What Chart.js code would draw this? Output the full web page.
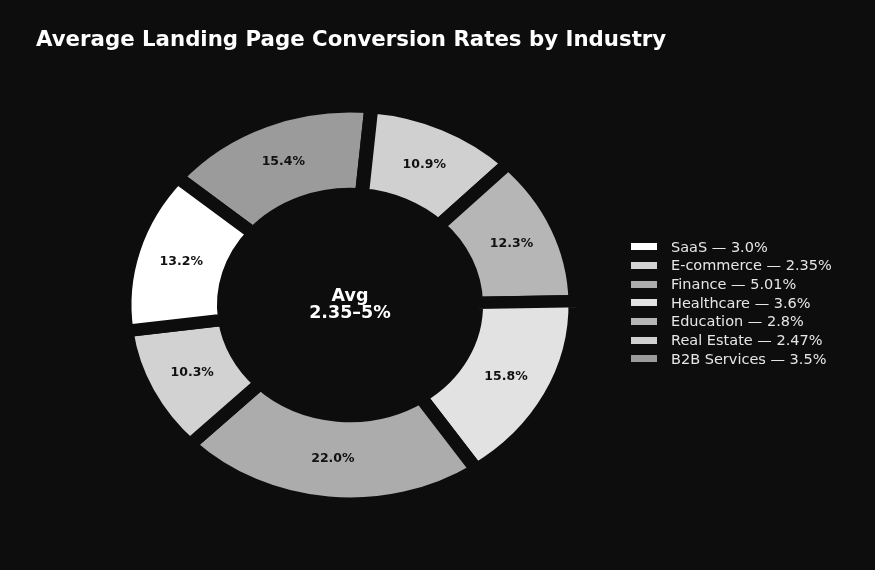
<!DOCTYPE html>
<html>
<head>
<meta charset="utf-8">
<script src="https://cdn.jsdelivr.net/npm/chart.js@4"></script>
<style>
  html, body { margin: 0; padding: 0; background: #0d0d0d; }
  #wrap { position: relative; width: 875px; height: 570px; overflow: hidden; }
  #title {
    position: absolute; left: 36px; top: 28px; margin: 0;
    font: bold 21.3px/1 "DejaVu Sans", sans-serif; color: #ffffff; white-space: nowrap;
  }
  #legend { position: absolute; left: 631px; top: 237.5px; }
  #legend .row {
    display: flex; align-items: center; height: 18.7px;
    font: 14.5px/18.7px "DejaVu Sans", sans-serif; color: #e6e6e6; white-space: nowrap;
  }
  #legend .sw { width: 26px; height: 7px; margin-right: 14px; flex: none; }
</style>
</head>
<body>
<div id="wrap">
  <canvas id="donut" width="875" height="570"></canvas>
  <h1 id="title">Average Landing Page Conversion Rates by Industry</h1>
  <div id="legend"></div>
</div>
<script>
const industries = ['SaaS', 'E-commerce', 'Finance', 'Healthcare', 'Education', 'Real Estate', 'B2B Services'];
const rates = [3.0, 2.35, 5.01, 3.6, 2.8, 2.47, 3.5];
const rateText = ['3.0', '2.35', '5.01', '3.6', '2.8', '2.47', '3.5'];
const centerLines = ['Avg', '2.35–5%'];

const sliceColors = ['#ffffff', '#d2d2d2', '#acacac', '#e2e2e2', '#b6b6b6', '#d0d0d0', '#9b9b9b'];
const bg = '#0d0d0d';
const squash = 0.881; // picture is an ellipse, not a circle

// legend (original order)
const legend = document.getElementById('legend');
industries.forEach((name, i) => {
  const row = document.createElement('div');
  row.className = 'row';
  row.innerHTML = `<span class="sw" style="background:${sliceColors[i]}"></span>${name} — ${rateText[i]}%`;
  legend.appendChild(row);
});

// matplotlib went counter-clockwise, chart.js goes clockwise -> feed it reversed
const total = rates.reduce((a, b) => a + b, 0);
const revLabels = industries.slice().reverse();
const revRates = rates.slice().reverse();
const revColors = sliceColors.slice().reverse();

const ellipsePlugin = {
  id: 'ellipse',
  beforeDatasetsDraw(chart) {
    const ctx = chart.ctx;
    const a = chart.getDatasetMeta(0).data[0];
    ctx.save();
    ctx.translate(a.x, a.y);
    ctx.scale(1, squash);
    ctx.translate(-a.x, -a.y);
  },
  afterDatasetsDraw(chart) {
    const ctx = chart.ctx;
    ctx.restore();
    const arcs = chart.getDatasetMeta(0).data;
    const cx = arcs[0].x, cy = arcs[0].y;
    ctx.save();
    ctx.textAlign = 'center';
    ctx.textBaseline = 'middle';
    ctx.fillStyle = '#111111';
    ctx.font = 'bold 12.5px "DejaVu Sans"';
    arcs.forEach((arc, i) => {
      const p = arc.tooltipPosition();
      const y = cy + (p.y - cy) * squash;
      ctx.fillText((revRates[i] / total * 100).toFixed(1) + '%', p.x, y);
    });
    ctx.fillStyle = '#ffffff';
    ctx.font = 'bold 17.5px "DejaVu Sans"';
    ctx.textBaseline = 'alphabetic';
    ctx.fillText(centerLines[0], cx, cy - 4);
    ctx.fillText(centerLines[1], cx, cy + 13);
    ctx.restore();
  }
};

new Chart(document.getElementById('donut'), {
  type: 'doughnut',
  data: {
    labels: revLabels,
    datasets: [{
      data: revRates,
      backgroundColor: revColors,
      borderColor: bg,
      borderWidth: 14,
      borderAlign: 'center',
      borderJoinStyle: 'miter',
      hoverOffset: 0
    }]
  },
  options: {
    responsive: false,
    animation: false,
    radius: 225.5,
    cutout: '55.9%',
    rotation: -50,
    layout: { padding: { left: 0, right: 175, top: 40, bottom: 0 } },
    plugins: {
      legend: { display: false },
      title: { display: false },
      tooltip: { enabled: false }
    }
  },
  plugins: [ellipsePlugin]
});
</script>
</body>
</html>
